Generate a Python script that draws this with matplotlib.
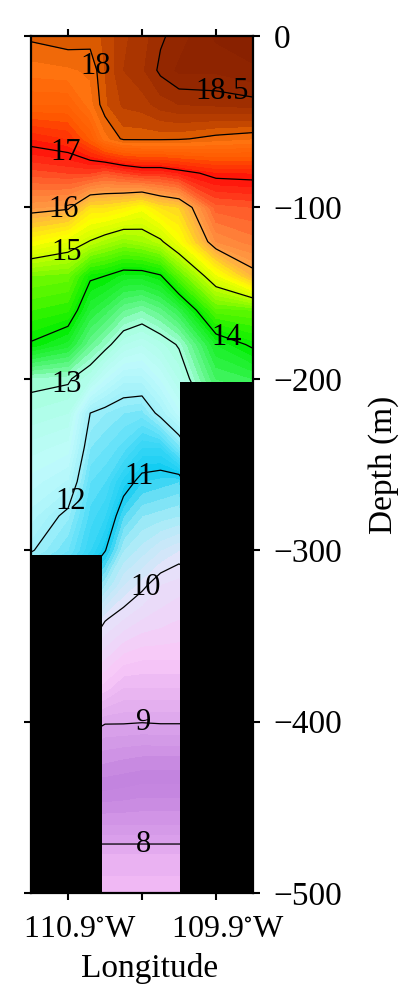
import numpy as np
import matplotlib
matplotlib.use("Agg")
import matplotlib.pyplot as plt
import matplotlib.transforms as mtrans
from matplotlib.colors import LinearSegmentedColormap

plt.rcParams['font.family'] = ['Liberation Serif', 'DejaVu Serif']
plt.rcParams['mathtext.fontset'] = 'stix'

# station longitudes (deg E) and sample depths (m, negative down)
lons = [-111.15, -110.9, -110.75, -110.65, -110.525, -110.4, -110.275, -110.15, -109.9, -109.65]
depths = [0, -20, -40, -60, -80, -100, -120, -140, -160, -180, -200, -220, -240,
          -260, -280, -300, -320, -340, -360, -380, -400, -420, -440, -460, -480, -500]

t_111_15 = [18.03, 17.85, 17.6, 17.1, 16.65, 16.12, 15.4, 14.6, 14.3, 13.97, 13.08, 12.88, 12.65,
            12.45, 12.25, 12.03, 11.5, 11.0, 10.5, 10.0, 9.2, 8.9, 8.6, 8.3, 7.85, 7.7]
t_110_90 = [18.08, 17.88, 17.6, 17.2, 16.7, 16.05, 15.2, 14.55, 14.22, 13.75, 13.04, 12.8, 12.55,
            12.28, 11.92, 11.7, 11.2, 10.7, 10.2, 9.7, 9.05, 8.85, 8.55, 8.2, 7.85, 7.7]
t_110_75 = [18.05, 17.92, 17.85, 17.5, 16.7, 15.6, 14.98, 14.05, 13.7, 13.3, 12.8, 12.0, 11.8,
            11.6, 11.45, 11.3, 10.8, 10.3, 9.9, 9.55, 9.1, 8.8, 8.5, 8.2, 7.85, 7.75]
t_110_65 = [18.12, 18.1, 18.08, 17.85, 16.6, 15.6, 14.85, 14.0, 13.55, 13.1, 12.5, 11.9, 11.7,
            11.5, 11.3, 11.02, 10.5, 10.02, 9.75, 9.45, 9.02, 8.75, 8.5, 8.2, 7.85, 7.75]
t_110_53 = [18.28, 18.3, 18.22, 18.03, 16.7, 15.5, 14.72, 13.85, 13.3, 12.8, 12.25, 11.8, 11.55,
            11.15, 10.8, 10.5, 10.2, 9.9, 9.6, 9.3, 9.02, 8.72, 8.48, 8.2, 7.85, 7.75]
t_110_40 = [18.35, 18.38, 18.25, 18.03, 16.8, 15.35, 14.8, 13.85, 13.2, 12.7, 12.25, 11.75, 11.3,
            10.9, 10.6, 10.35, 10.05, 9.8, 9.55, 9.3, 9.01, 8.7, 8.45, 8.2, 7.85, 7.75]
t_110_28 = [18.48, 18.53, 18.35, 18.03, 16.8, 15.6, 14.95, 13.97, 13.35, 12.85, 12.5, 12.1, 11.3,
            10.85, 10.55, 10.2, 9.9, 9.75, 9.55, 9.3, 9.02, 8.7, 8.45, 8.2, 7.85, 7.75]
t_110_15 = [18.55, 18.62, 18.4, 18.02, 16.9, 15.7, 15.3, 14.45, 13.6, 13.03, 12.8, 12.45, 11.75,
            10.8, 10.5, 10.1, 9.85, 9.7, 9.55, 9.3, 9.02, 8.7, 8.45, 8.2, 7.85, 7.75]
t_109_90 = [18.72, 18.62, 18.42, 17.95, 17.08, 16.55, 16.2, 15.25, 14.45, 13.8, 13.5, 13.2, 12.8,
            12.2, 11.5, 10.5, 10.0, 9.8, 9.55, 9.3, 9.02, 8.7, 8.45, 8.2, 7.85, 7.75]
t_109_65 = [18.78, 18.68, 18.45, 17.9, 17.1, 16.6, 16.35, 15.9, 14.5, 14.05, 13.6, 13.3, 12.9,
            12.3, 11.6, 10.6, 10.0, 9.8, 9.55, 9.3, 9.02, 8.7, 8.45, 8.2, 7.85, 7.75]

# sea floor blocks: left edge, width, top depth
bottom_left = [-111.15, -110.14]
bottom_width = [0.48, 0.49]
bottom_top = [-303, -202]

line_levels = [8, 9, 10, 11, 12, 13, 14, 15, 16, 17, 18, 18.5]
label_spots = [(-110.64, -16), (-109.85, -29), (-110.91, -65), (-110.93, -99), (-110.91, -125),
               (-109.82, -174), (-110.91, -204), (-110.87, -272), (-110.42, -257),
               (-110.38, -321), (-110.39, -398), (-110.39, -468)]

# colour ramp anchored at temperatures
cmap_t = [7.6, 7.75, 8.0, 8.5, 9.0, 9.5, 10.0, 10.5, 11.0, 11.5, 12.0, 12.5, 13.0, 13.5, 14.0,
          14.5, 15.0, 15.4, 16.0, 16.5, 17.0, 17.5, 17.9, 18.05, 18.25, 18.5, 18.8]
cmap_c = ['#f2bcf6', '#f0b8f4', '#dca2ec', '#c282de', '#dca6ec', '#f8c8f8', '#e4e4fa', '#a8ecf8',
          '#10ccf2', '#50dcf8', '#a0f0fa', '#c0fbfc', '#a8ffe0', '#40f460', '#00ee00', '#60f800',
          '#c8ff00', '#ffff00', '#ffa848', '#ff6a30', '#ff1008', '#ff5a00', '#ff7410', '#dc5a00',
          '#b83e00', '#982a00', '#862000']

tmin, tmax = cmap_t[0], cmap_t[-1]
cmap = LinearSegmentedColormap.from_list(
    'sect', [((t - tmin) / (tmax - tmin), c) for t, c in zip(cmap_t, cmap_c)])

temp = np.column_stack([t_111_15, t_110_90, t_110_75, t_110_65, t_110_53,
                        t_110_40, t_110_28, t_110_15, t_109_90, t_109_65])
X, Z = np.meshgrid(lons, depths)

fig = plt.figure(figsize=(4.2, 10.07), dpi=100)
ax = fig.add_axes([31 / 420, 1 - 893 / 1007, 222 / 420, 857 / 1007])

ax.contourf(X, Z, temp, levels=np.arange(tmin, tmax + 0.01, 0.1), cmap=cmap,
            vmin=tmin, vmax=tmax, extend='both', antialiased=False)
cs = ax.contour(X, Z, temp, levels=line_levels, colors='black', linewidths=0.9)
labels = ax.clabel(cs, fmt='%g', fontsize=22, inline=False, manual=label_spots)
for t in labels:
    t.set_rotation(0)

ax.bar(bottom_left, [b + 500 for b in bottom_top], width=bottom_width, bottom=-500,
       align='edge', color='black', zorder=3)

ax.set_xlim(-111.15, -109.65)
ax.set_ylim(-500, 0)
ax.set_xticks([-110.9, -110.4, -109.9])
ax.set_xticklabels(['110.9$^{\\circ}$W', '', '109.9$^{\\circ}$W'])
ax.set_yticks([0, -100, -200, -300, -400, -500])

ax.yaxis.tick_right()
ax.yaxis.set_label_position('right')
ax.tick_params(direction='out', length=5, width=1.5, labelsize=24,
               top=True, bottom=True, left=True, right=True,
               labelleft=False, labelright=True)
ax.tick_params(axis='y', pad=10)
ax.tick_params(axis='x', pad=11, labelsize=23)
shift = mtrans.ScaledTranslation(12 / 100, 0, fig.dpi_scale_trans)
for lab in ax.get_xticklabels():
    lab.set_transform(lab.get_transform() + shift)
for s in ax.spines.values():
    s.set_linewidth(1.6)
    s.set_zorder(5)

ax.set_xlabel('Longitude', fontsize=24)
ax.xaxis.set_label_coords((150 - 31) / 222, -0.07)
ax.set_ylabel('Depth (m)', fontsize=24, labelpad=18)

fig.savefig('out.png', dpi=100)
